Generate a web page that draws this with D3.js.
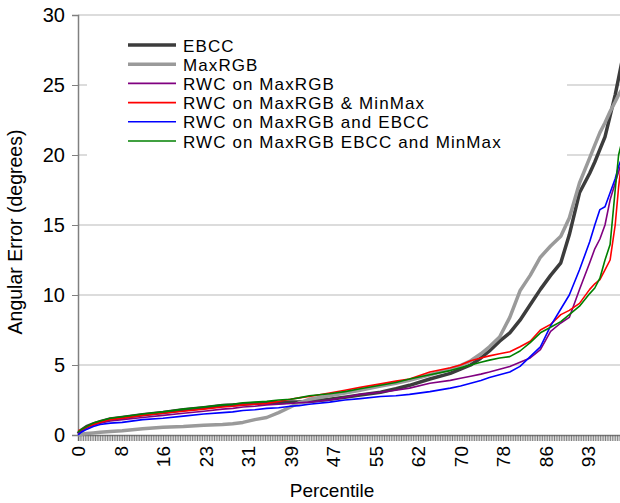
<!DOCTYPE html>
<html><head><meta charset="utf-8">
<script src="https://cdn.jsdelivr.net/npm/d3@7"></script>
<style>
html,body{margin:0;padding:0;background:#fff;}
text{font-family:"Liberation Sans",Arial,sans-serif;fill:#000;}
</style></head>
<body><svg id="c" width="620" height="503"></svg>
<script>
// sample category indices (0..320, 321 images)
const sampleIdx = [0,2,5,9,13,19,26,38,50,62,74,85,91,97,104,111,118,125,130,136,148,157,166,178,187,195,207,219,225,231,237,242,248,254,260,266,272,278,284,289,295,301,304,307,310,313,316,318,320];
const ebcc   = [0.1,0.35,0.6,0.8,0.95,1.15,1.25,1.45,1.6,1.8,1.95,2.1,2.15,2.2,2.25,2.3,2.3,2.35,2.35,2.4,2.55,2.7,2.85,3.05,3.3,3.55,4.0,4.4,4.7,5.0,5.5,6.0,6.7,7.3,8.2,9.3,10.4,11.4,12.3,14.3,17.3,18.7,19.5,20.4,21.3,22.8,24.3,25.5,26.7];
const maxrgb = [0.0,0.05,0.1,0.15,0.2,0.25,0.3,0.45,0.55,0.6,0.7,0.75,0.8,0.9,1.1,1.25,1.6,2.0,2.3,2.55,2.8,3.0,3.2,3.5,3.7,3.9,4.3,4.7,4.95,5.3,5.8,6.3,7.0,8.4,10.3,11.4,12.7,13.5,14.2,15.5,18.0,19.8,20.7,21.6,22.3,23.1,23.8,24.3,24.7];
const rwcMax = [0.1,0.3,0.5,0.7,0.85,1.0,1.1,1.25,1.4,1.55,1.7,1.85,1.9,2.0,2.05,2.15,2.2,2.25,2.3,2.35,2.5,2.7,2.9,3.05,3.2,3.35,3.7,3.9,4.05,4.2,4.35,4.5,4.7,4.9,5.2,5.5,6.1,7.4,8.0,8.4,10.4,12.3,13.3,14.0,15.0,16.8,18.0,18.8,19.6];
const rwcMaxMinMax = [0.3,0.4,0.55,0.75,0.9,1.1,1.2,1.4,1.55,1.7,1.85,2.0,2.05,2.15,2.2,2.25,2.4,2.55,2.65,2.75,3.0,3.2,3.4,3.65,3.85,4.0,4.5,4.8,5.0,5.3,5.5,5.65,5.8,5.95,6.3,6.7,7.5,7.9,8.6,8.9,9.4,10.4,10.8,11.1,11.8,12.5,15.0,17.7,19.8];
const rwcMaxEbcc = [0.0,0.2,0.4,0.6,0.75,0.85,0.9,1.1,1.2,1.35,1.5,1.6,1.65,1.75,1.8,1.9,1.95,2.05,2.1,2.2,2.35,2.5,2.6,2.75,2.8,2.9,3.1,3.35,3.5,3.7,3.9,4.1,4.3,4.5,4.9,5.6,6.3,7.8,9.0,10.0,11.8,13.8,15.0,16.1,16.3,17.3,18.3,19.2,19.8];
const rwcAll = [0.2,0.4,0.6,0.85,1.0,1.2,1.3,1.5,1.65,1.85,2.0,2.15,2.2,2.3,2.35,2.4,2.5,2.55,2.65,2.8,2.95,3.1,3.3,3.55,3.75,4.0,4.3,4.6,4.8,5.0,5.2,5.35,5.5,5.6,6.0,6.6,7.3,7.7,8.1,8.6,9.2,10.1,10.5,11.2,12.5,13.6,17.5,20.0,21.0];

const seriesNames = ["EBCC","MaxRGB","RWC on MaxRGB","RWC on MaxRGB & MinMax","RWC on MaxRGB and EBCC","RWC on MaxRGB EBCC and MinMax"];
const seriesValues = [ebcc, maxrgb, rwcMax, rwcMaxMinMax, rwcMaxEbcc, rwcAll];
const seriesColors = ["#3c3c3c","#9a9a9a","#800080","#ff0000","#0000ff","#008000"];
const seriesWidths = [3.5,3.5,1.6,1.6,1.6,1.6];

const nCategories = 321;
const tickLabels = ["0","8","16","23","31","39","47","55","62","70","78","86","93"];
const labelEvery = 25;
const yTicks = [0,5,10,15,20,25,30];

const svg = d3.select("#c");
const L = 78, R = 622, T = 15, B = 435;
const x = d3.scaleLinear().domain([0, nCategories-1]).range([L, R]);
const y = d3.scaleLinear().domain([0, 30]).range([B, T]);

// gridlines
svg.append("g").selectAll("line").data(yTicks.filter(d=>d>0)).join("line")
  .attr("x1", L).attr("x2", 620).attr("y1", d=>y(d)).attr("y2", d=>y(d))
  .attr("stroke", "#d0d0d0").attr("stroke-width", 1.5);

// legend background (covers gridlines)
svg.append("rect").attr("x", 87).attr("y", 24).attr("width", 480).attr("height", 140).attr("fill", "#fff");

// y axis
const yAxis = svg.append("g").attr("transform", `translate(${L},0)`)
  .call(d3.axisLeft(y).tickValues(yTicks).tickSize(6).tickPadding(7));
yAxis.select(".domain").attr("stroke", "#808080").attr("stroke-width", 1.5);
yAxis.selectAll(".tick line").attr("stroke", "#808080");
yAxis.selectAll("text").style("font-size", "20px").attr("font-family", null).attr("fill", "#000");

// x axis
const xAxis = svg.append("g").attr("transform", `translate(0,${B})`)
  .call(d3.axisBottom(x).tickValues(d3.range(nCategories)).tickSize(6)
    .tickFormat(d => d % labelEvery === 0 ? tickLabels[d / labelEvery] : ""));
xAxis.select(".domain").attr("stroke", "#808080").attr("stroke-width", 1.5);
xAxis.selectAll(".tick line").attr("stroke", "#606060").attr("stroke-width", 0.8);
xAxis.selectAll("text").style("font-size", "19px").attr("font-family", null).attr("fill", "#000")
  .attr("transform", "rotate(-90)").attr("text-anchor", "end").attr("dy", "0.35em").attr("x", -11).attr("y", 0);

// lines
const line = d3.line().x((d,i)=>x(sampleIdx[i])).y(d=>y(d));
seriesValues.forEach((vals, k) => {
  svg.append("path").datum(vals).attr("d", line).attr("fill", "none")
    .attr("stroke", seriesColors[k]).attr("stroke-width", seriesWidths[k]).attr("stroke-linejoin", "round");
});

// legend
const lg = svg.append("g");
seriesNames.forEach((name, k) => {
  const yy = 45 + k * 19.2;
  lg.append("line").attr("x1", 128).attr("x2", 176).attr("y1", yy).attr("y2", yy)
    .attr("stroke", seriesColors[k]).attr("stroke-width", seriesWidths[k]);
  lg.append("text").attr("x", 183).attr("y", yy + 6.5).style("font-size", "17px")
    .style("letter-spacing", "1.1px").text(name);
});

// axis titles
svg.append("text").attr("x", 332).attr("y", 497).attr("text-anchor", "middle").style("font-size", "19px").text("Percentile");
svg.append("text").attr("transform", "translate(22,232) rotate(-90)").attr("text-anchor", "middle").style("font-size", "19.5px").text("Angular Error (degrees)");
</script></body></html>
